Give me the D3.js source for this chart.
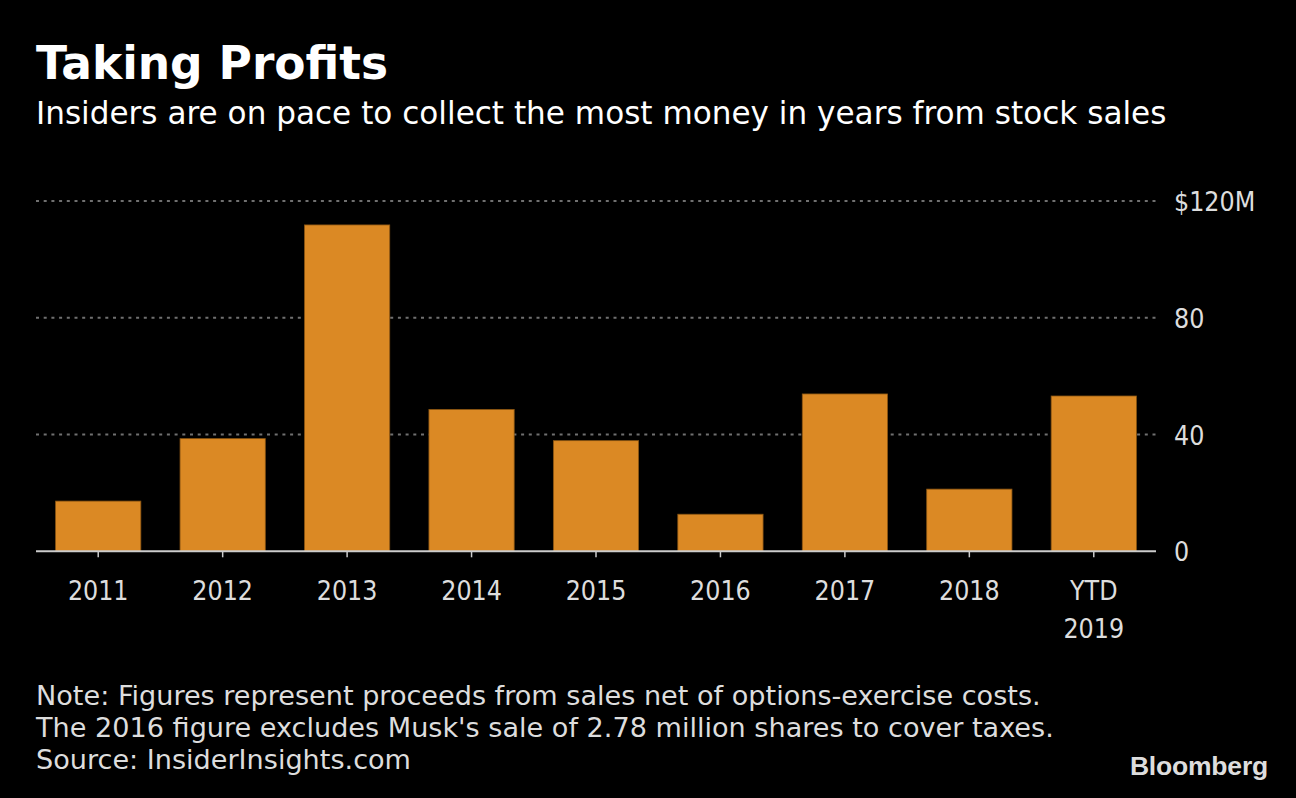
<!DOCTYPE html>
<html>
<head>
<meta charset="utf-8">
<script src="https://cdn.jsdelivr.net/npm/d3@7"></script>
<style>
  html, body { margin: 0; padding: 0; background: #000; }
  svg { display: block; }
</style>
</head>
<body>
<svg id="chart" width="1296" height="798"></svg>
<script>
const categories = ["2011", "2012", "2013", "2014", "2015", "2016", "2017", "2018", "YTD\n2019"];
const values = [17.2, 38.6, 111.8, 48.6, 37.9, 12.7, 53.9, 21.3, 53.2];
const yTicks = [0, 40, 80, 120];
const yTickLabels = ["0", "40", "80", "$120M"];
const title = "Taking Profits";
const subtitle = "Insiders are on pace to collect the most money in years from stock sales";
const notes = [
  "Note: Figures represent proceeds from sales net of options-exercise costs.",
  "The 2016 figure excludes Musk's sale of 2.78 million shares to cover taxes.",
  "Source: InsiderInsights.com"
];

(function () {
const svg = d3.select("#chart");
svg.append("rect").attr("width", 1296).attr("height", 798).attr("fill", "#000");

const pLeft = 36, pRight = 1156, pTop = 201, pBottom = 551.3;

const x = d3.scaleBand().domain(categories).range([pLeft, pRight]).paddingInner(0.315).paddingOuter(0.1575);
const y = d3.scaleLinear().domain([0, 120]).range([pBottom, pTop]);

// titles
svg.append("text").attr("x", 36).attr("y", 79)
  .attr("font-family", "DejaVu Sans").attr("font-weight", "bold").attr("font-size", 45.5)
  .attr("fill", "#fff").text(title);
svg.append("text").attr("x", 36).attr("y", 124)
  .attr("font-family", "DejaVu Sans").attr("font-size", 31.1)
  .attr("fill", "#fff").text(subtitle);

// gridlines
const grid = svg.append("g");
grid.selectAll("line").data(yTicks.filter(d => d > 0)).join("line")
  .attr("x1", pLeft).attr("x2", pRight)
  .attr("y1", d => y(d)).attr("y2", d => y(d))
  .attr("stroke", "#707070").attr("stroke-width", 2)
  .attr("stroke-dasharray", "3,4.7");

// bars
svg.append("g").selectAll("rect").data(values).join("rect")
  .attr("x", (d, i) => x(categories[i]))
  .attr("width", x.bandwidth())
  .attr("y", d => y(d))
  .attr("height", d => y(0) - y(d))
  .attr("fill", "#db8924")
  .attr("stroke", "#8a5512").attr("stroke-width", 0.8);

// x axis
const xAxis = d3.axisBottom(x).tickSize(6).tickSizeOuter(0).tickFormat("");
const gx = svg.append("g").attr("transform", `translate(0,${pBottom})`).call(xAxis);
gx.select(".domain").remove();
gx.selectAll(".tick line").attr("stroke", "#cccccc").attr("stroke-width", 1.5);
svg.append("line").attr("x1", pLeft).attr("x2", pRight).attr("y1", pBottom).attr("y2", pBottom)
  .attr("stroke", "#cccccc").attr("stroke-width", 2);

const xl = svg.append("g");
categories.forEach(c => {
  const lines = c.split("\n");
  const t = xl.append("text").attr("x", x(c) + x.bandwidth() / 2).attr("y", 599.5)
    .attr("text-anchor", "middle").attr("font-family", "DejaVu Sans Condensed")
    .attr("font-size", 26.5).attr("fill", "#dddddd");
  lines.forEach((l, i) => t.append("tspan").attr("x", x(c) + x.bandwidth() / 2).attr("dy", i === 0 ? 0 : 38.5).text(l));
});

// y axis labels
const yAxis = d3.axisRight(y).tickValues(yTicks).tickSize(0).tickPadding(0)
  .tickFormat((d, i) => yTickLabels[i]);
const gy = svg.append("g").attr("transform", `translate(1174,0)`).call(yAxis);
gy.select(".domain").remove();
gy.selectAll("text").attr("font-family", "DejaVu Sans Condensed").attr("font-size", 26.5)
  .attr("fill", "#dddddd").attr("dy", "0.36em");

// notes
notes.forEach((n, i) => {
  svg.append("text").attr("x", 36).attr("y", 705 + i * 32)
    .attr("font-family", "DejaVu Sans").attr("font-size", 27.1)
    .attr("fill", "#dddddd").text(n);
});

// logo
svg.append("text").attr("x", 1268).attr("y", 775).attr("text-anchor", "end")
  .attr("font-family", "Liberation Sans").attr("font-weight", "bold").attr("font-size", 26.5)
  .attr("letter-spacing", -0.2)
  .attr("fill", "#dddddd").text("Bloomberg");
})();
</script>
</body>
</html>
